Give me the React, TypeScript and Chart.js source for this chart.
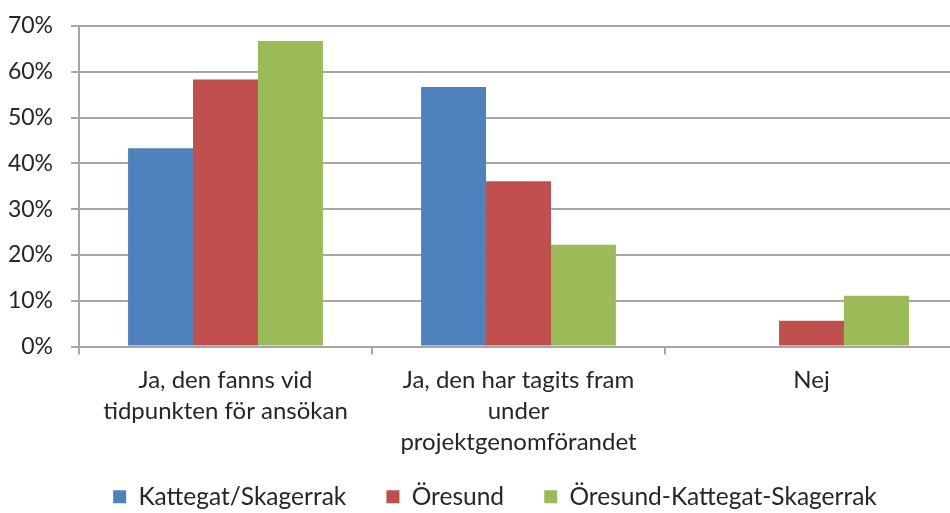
import React, { useEffect, useRef } from "react";
import { Chart, registerables } from "chart.js";

Chart.register(...registerables);

const categories: (string | string[])[] = [
  ["Ja, den fanns vid", "tidpunkten för ansökan"],
  ["Ja, den har tagits fram", "under", "projektgenomförandet"],
  "Nej",
];
const seriesNames = ["Kattegat/Skagerrak", "Öresund", "Öresund-Kattegat-Skagerrak"];
const kattegat = [43.3, 56.7, 0];
const oresund = [58.3, 36.1, 5.6];
const oks = [66.7, 22.2, 11.1];
const colors = ["#4F81BD", "#C0504D", "#9BBB59"];
const yTicks = [0, 10, 20, 30, 40, 50, 60, 70];

const FONT = "Lato, 'Open Sans', sans-serif";
const TEXT = "#262626";
const GRID = "#A6A6A6";

export default function App() {
  const ref = useRef<HTMLCanvasElement | null>(null);
  useEffect(() => {
    if (!ref.current) return;
    const chart = new Chart(ref.current, {
      type: "bar",
      data: {
        labels: categories,
        datasets: [kattegat, oresund, oks].map((d, i) => ({
          label: seriesNames[i],
          data: d,
          backgroundColor: colors[i],
          borderWidth: 0,
          categoryPercentage: 0.665,
          barPercentage: 1,
        })),
      },
      options: {
        animation: false,
        responsive: true,
        maintainAspectRatio: false,
        layout: { padding: { top: 26, left: 32, right: 0, bottom: -6 } },
        plugins: {
          tooltip: { enabled: false },
          legend: {
            position: "bottom",
            labels: {
              boxWidth: 13,
              boxHeight: 13,
              padding: 8,
              color: TEXT,
              font: { family: FONT, size: 24.5 },
              generateLabels: (c: any) => {
                const items = (Chart.defaults.plugins.legend.labels as any).generateLabels(c);
                items.forEach((it: any, i: number) => {
                  if (i < items.length - 1) it.text = it.text + "\u2003\u2002\u200A";
                });
                return items;
              },
            },
          },
        },
        scales: {
          x: {
            offset: true,
            afterFit: (s: any) => {
              s.height = 130;
            },
            grid: {
              offset: true,
              drawOnChartArea: false,
              drawTicks: true,
              tickLength: 8,
              color: GRID,
              lineWidth: 2,
            },
            border: { color: GRID, width: 2 },
            ticks: {
              autoSkip: false,
              maxRotation: 0,
              minRotation: 0,
              padding: 10,
              color: TEXT,
              font: { family: FONT, size: 24, lineHeight: 1.3 },
            },
          },
          y: {
            min: 0,
            max: 70,
            afterFit: (s: any) => {
              s.width = 47;
              s.paddingTop = 0;
              s.paddingBottom = 0;
              s._computeLabelArea = () => undefined;
            },
            afterBuildTicks: (s: any) => {
              s.ticks = yTicks.map((v) => ({ value: v }));
            },
            grid: {
              color: GRID,
              lineWidth: 2,
              tickLength: 8,
            },
            border: { color: GRID, width: 2 },
            ticks: {
              padding: 18,
              color: TEXT,
              font: { family: FONT, size: 23 },
              callback: (v: any) => v + "%",
            },
          },
        },
      },
    });
    return () => chart.destroy();
  }, []);
  return (
    <div style={{ position: "fixed", left: 0, top: 0, width: 950, height: 513, overflow: "hidden", background: "#fff" }}>
      <div style={{ position: "absolute", left: 0, top: 0, width: 958, height: 513 }}>
        <canvas ref={ref} />
      </div>
    </div>
  );
}
